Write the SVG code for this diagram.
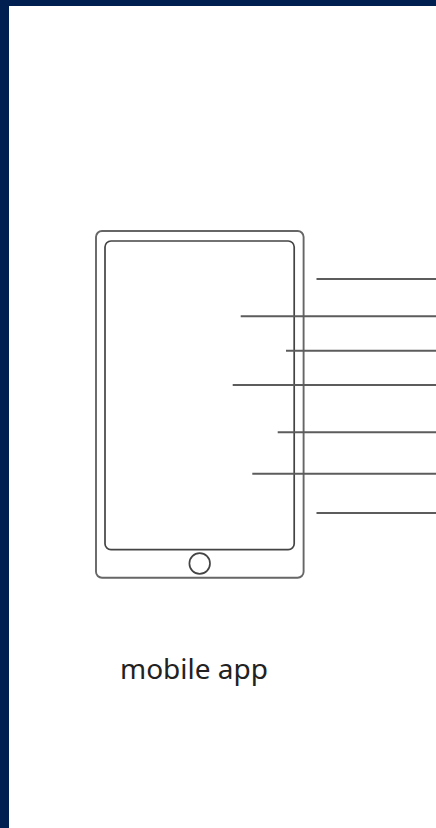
<svg xmlns="http://www.w3.org/2000/svg" width="436" height="828" viewBox="0 0 436 828">
<style>
.outer{fill:none;stroke:#666;stroke-width:1.9}
.inner{fill:none;stroke:#444;stroke-width:1.7}
.lead{fill:none;stroke:#5c5c5c;stroke-width:1.9}
.label{font-family:"Noto Sans","Open Sans",sans-serif;font-size:28px;fill:#222}
</style>
<rect width="436" height="828" fill="#fff"/>
<path d="M0 0H436V6H9V828H0Z" fill="#001f51"/>
<g id="phone">
<rect class="outer" x="96" y="231" width="207.600" height="346.800" rx="6"/>
<rect class="inner" x="105" y="241" width="189.200" height="308.700" rx="6"/>
<circle class="inner" cx="199.700" cy="563.500" r="10.300"/>
</g>
<g id="connectors">
<line class="lead" x1="316.500" y1="279" x2="436" y2="279"/>
<line class="lead" x1="240.700" y1="316.300" x2="436" y2="316.300"/>
<line class="lead" x1="286" y1="350.700" x2="436" y2="350.700"/>
<line class="lead" x1="232.700" y1="385" x2="436" y2="385"/>
<line class="lead" x1="277.700" y1="432.300" x2="436" y2="432.300"/>
<line class="lead" x1="252.300" y1="473.700" x2="436" y2="473.700"/>
<line class="lead" x1="316.500" y1="513" x2="436" y2="513"/>
</g>
<g id="label"><text class="label" x="120" y="679">mobile app</text></g>
</svg>
